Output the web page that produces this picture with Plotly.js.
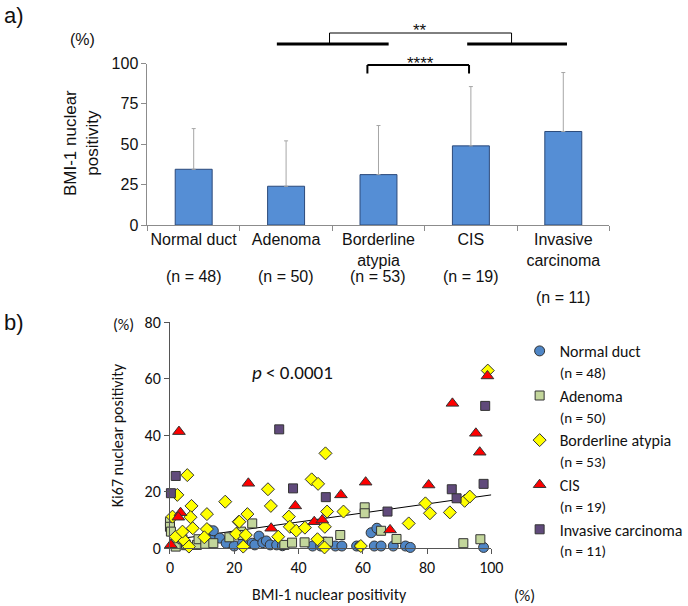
<!DOCTYPE html>
<html>
<head>
<meta charset="utf-8">
<script src="https://cdn.plot.ly/plotly-3.0.1.min.js"></script>
<style>html,body{margin:0;padding:0;background:#fff;}#chart{width:688px;height:606px;}</style>
</head>
<body>
<div id="chart"></div>
<script>
// ---------- Panel a data ----------
const categories = ['Normal duct', 'Adenoma', 'Borderline atypia', 'CIS', 'Invasive carcinoma'];
const tickLabels = ['Normal duct', 'Adenoma', 'Borderline<br>atypia', 'CIS', 'Invasive<br>carcinoma'];
const nLabels = ['(n = 48)', '(n = 50)', '(n = 53)', '(n = 19)', '(n = 11)'];
const meanBMI = [34.5, 24.0, 31.2, 49.0, 57.9];
const sdBMI = [25.2, 28.1, 30.4, 36.7, 36.5];
const yTicksA = [0, 25, 50, 75, 100];

// ---------- Panel b data (BMI-1 %, Ki67 %) ----------
const normalX = [12, 13, 13.5, 15.5, 17.5, 20, 22.6, 25.6, 26.4, 27.7, 28.9, 30, 31.2, 33.2, 35, 44.4, 46.9, 47.9, 51.5, 53.5, 58.1, 59.1, 62.6, 63.6, 64.4, 65.7, 69.5, 73.3, 74.8, 97.6, 100.4];
const normalY = [6.4, 2.8, 6.1, 3.5, 1.7, 0.7, 1.9, 1.7, 1.1, 4.2, 1.9, 2.5, 1.1, 1.1, 0.8, 0.7, 0.7, 0.7, 0.7, 0.7, 0.7, 0.7, 5.4, 0.7, 7.0, 0.7, 0.7, 0.7, 0.2, 0.2, 0.2];
const adenomaX = [0, 0, 0.3, 1.8, 3.9, 5, 8.4, 8.9, 11, 13.5, 18.5, 22.1, 22.6, 25.6, 35.6, 38, 41.9, 47.4, 49.2, 53, 60.6, 60.6, 65.7, 70.5, 91.3, 96.6, 100.4];
const adenomaY = [9.3, 7.5, 5.8, 0.5, 3.1, 1.0, 1.1, 3.1, 1.5, 1.7, 3.8, 5.8, 4.6, 8.7, 1.1, 1.9, 2.0, 2.2, 2.2, 4.6, 14.4, 12.3, 6.1, 3.2, 1.7, 3.1, 4.0];
const borderX = [5.4, 2.3, 17.2, 6.7, 11.5, 6.4, 0.8, 21.4, 7.1, 11.5, 20.6, 10.7, 4.3, 1.8, 5.9, 3.9, 30.5, 44.1, 46.1, 31.4, 24.1, 37, 21.6, 37.3, 39.3, 42, 33.7, 23.6, 45.9, 48.1, 22.8, 48.4, 48.9, 54, 48.2, 74.3, 59.4, 79.5, 80.9, 87.1, 91.7, 93.3, 98.9, 100.4];
const borderY = [25.8, 18.8, 16.4, 14.9, 12.0, 10.9, 11.1, 9.3, 7.0, 6.7, 5.0, 3.8, 2.8, 4.0, 0.5, 5.8, 20.8, 24.3, 22.7, 14.9, 12.0, 11.1, 9.3, 7.5, 6.1, 7.2, 4.0, 4.6, 3.1, 0.2, 0.5, 33.5, 12.9, 12.9, 7.5, 8.7, 0.7, 15.8, 12.3, 12.6, 16.7, 18.2, 62.8, 27.6];
const cisX = [2.8, 3.3, 2.6, 0.3, 24.4, 39, 31.5, 44.9, 47.4, 60.9, 53.2, 68.5, 80.5, 87.9, 95.2, 96.4, 98.8, 100.4];
const cisY = [41.2, 12.5, 10.9, 1.1, 22.9, 14.9, 7.0, 9.3, 9.9, 23.3, 18.8, 6.4, 22.3, 51.2, 40.6, 33.9, 60.9, 25.8];
const invasiveX = [1.8, 0.3, 34, 38.3, 48.5, 67.7, 87.7, 89.2, 97.6, 98.1];
const invasiveY = [25.5, 19.4, 42, 21.1, 18, 12.9, 20.8, 17.6, 22.7, 50.3];
const legendNames = ['Normal duct', 'Adenoma', 'Borderline atypia', 'CIS', 'Invasive carcinoma'];
const legendN = ['(n = 48)', '(n = 50)', '(n = 53)', '(n = 19)', '(n = 11)'];
const fitX = [0, 100];
const fitIntercept = 2.8, fitSlope = 0.16;
const xTicksB = [0, 20, 40, 60, 80, 100];
const yTicksB = [0, 20, 40, 60, 80];

// ---------- helpers (page geometry) ----------
const W = 688, H = 606;
const px = p => p / W;
const py = p => 1 - p / H;
const fontA = 'Liberation Sans, Arial, sans-serif';
const fontB = 'Carlito, Lato, sans-serif';
const axisCol = '#8c8c8c';

const traces = [];
traces.push({
  type: 'bar', x: categories, y: meanBMI, xaxis: 'x', yaxis: 'y',
  marker: {color: '#558ed5', line: {color: '#2c4a7a', width: 1}},
  error_y: {type: 'data', array: sdBMI, arrayminus: sdBMI.map(() => 0), symmetric: false,
            color: '#a6a6a6', thickness: 1, width: 2},
  showlegend: false, hoverinfo: 'skip'
});
traces.push({
  type: 'scatter', mode: 'lines', x: fitX, y: fitX.map(v => fitIntercept + fitSlope * v),
  xaxis: 'x2', yaxis: 'y2', line: {color: '#000', width: 1}, showlegend: false, hoverinfo: 'skip'
});
const series = [
  [normalX, normalY, 'circle', 10, '#4f86c6'],
  [adenomaX, adenomaY, 'square', 9, '#c3d69b'],
  [borderX, borderY, 'diamond', 10, '#ffff00'],
  [cisX, cisY, 'triangle-up', 11, '#ff0000'],
  [invasiveX, invasiveY, 'square', 9, '#604a7b']
];
series.forEach((s, i) => {
  traces.push({
    type: 'scatter', mode: 'markers', x: s[0], y: s[1], xaxis: 'x2', yaxis: 'y2',
    name: legendNames[i] + '<br><span style="font-size:15px">' + legendN[i] + '</span>',
    cliponaxis: false,
    marker: {symbol: s[2], size: s[3], color: s[4], line: {color: '#333', width: 1}}
  });
});

const shapes = [];
const lineSeg = (x0, y0, x1, y1, w) => shapes.push({type: 'line', xref: 'x', yref: 'paper',
  x0: x0, x1: x1, y0: py(y0), y1: py(y1), line: {color: '#000', width: w}});
// lower bracket (Borderline vs CIS)
lineSeg(1.88, 65, 2.98, 65, 2);
lineSeg(1.88, 65, 1.88, 73.5, 2);
lineSeg(2.98, 65, 2.98, 73.5, 2);
// group bars
lineSeg(0.9, 44, 2.11, 44, 3);
lineSeg(2.96, 44, 4.04, 44, 3);
// upper bracket
lineSeg(1.47, 33, 3.44, 33, 1);
lineSeg(1.47, 33, 1.47, 44, 1);
lineSeg(3.44, 33, 3.44, 44, 1);

const ann = [];
const txt = (text, x, y, size, font, extra) => ann.push(Object.assign({text: text, x: px(x), y: py(y),
  xref: 'paper', yref: 'paper', showarrow: false, font: {size: size, family: font, color: '#111'},
  xanchor: 'center', yanchor: 'middle'}, extra || {}));
txt('a)', 2, 15, 22, fontA, {xanchor: 'left'});
txt('(%)', 84, 39, 16, fontA);
txt('BMI-1 nuclear<br>positivity', 83, 143, 17, fontA, {textangle: -90});
categories.forEach((c, i) => ann.push({text: nLabels[i], x: c, xref: 'x', y: py(i === 4 ? 297 : 276), yref: 'paper',
  showarrow: false, font: {size: 16, family: fontA, color: '#111'}, yanchor: 'middle'}));
ann.push({text: '**', x: 2.45, xref: 'x', y: py(19), yref: 'paper', showarrow: false, font: {size: 17, family: fontA, color: '#111'}});
ann.push({text: '****', x: 2.45, xref: 'x', y: py(52), yref: 'paper', showarrow: false, font: {size: 17, family: fontA, color: '#111'}});
txt('b)', 2, 322, 22, fontA, {xanchor: 'left'});
txt('(%)', 126, 324, 16, fontB);
txt('Ki67 nuclear positivity', 120, 435, 16, fontB, {textangle: -90});
txt('BMI-1 nuclear positivity', 337, 594, 16, fontB);
txt('(%)', 537, 595, 16, fontB);
ann.push({text: '<i>p</i> < 0.0001', x: 38, y: 62, xref: 'x2', yref: 'y2', showarrow: false,
  font: {size: 19, family: fontB, color: '#111'}});

const layout = {
  width: W, height: H, margin: {l: 0, r: 0, t: 0, b: 0},
  paper_bgcolor: '#fff', plot_bgcolor: '#fff', showlegend: true, bargap: 0.6,
  xaxis: {domain: [px(151), px(624)], anchor: 'y', type: 'category', tickvals: categories, ticktext: tickLabels,
    tickangle: 0, showline: true, linecolor: axisCol, linewidth: 1, ticks: 'outside', ticklen: 5, tickcolor: axisCol,
    tickson: 'boundaries', showgrid: false, tickfont: {size: 16, family: fontA, color: '#111'}, fixedrange: true},
  yaxis: {domain: [py(225), py(63.5)], anchor: 'x', range: [0, 100], tickvals: yTicksA,
    showline: true, linecolor: axisCol, linewidth: 1, ticks: 'outside', ticklen: 5, tickcolor: axisCol,
    showgrid: false, zeroline: false, tickfont: {size: 16, family: fontA, color: '#111'}},
  xaxis2: {domain: [px(174), px(503)], anchor: 'y2', range: [0, 100], tickvals: xTicksB,
    showline: true, linecolor: '#555', linewidth: 1, ticks: 'outside', ticklen: 5, tickcolor: '#555',
    showgrid: false, zeroline: false, tickfont: {size: 16, family: fontB, color: '#111'}},
  yaxis2: {domain: [py(548), py(322)], anchor: 'x2', range: [0, 80], tickvals: yTicksB,
    showline: true, linecolor: '#555', linewidth: 1, ticks: 'outside', ticklen: 5, tickcolor: '#555',
    showgrid: false, zeroline: false, tickfont: {size: 16, family: fontB, color: '#111'}},
  legend: {x: px(532), y: py(334), xanchor: 'left', yanchor: 'top', valign: 'top',
    font: {size: 16, family: fontB, color: '#111'}, bgcolor: 'rgba(0,0,0,0)', tracegroupgap: 0},
  shapes: shapes, annotations: ann
};
Plotly.newPlot('chart', traces, layout, {staticPlot: true});
</script>
</body>
</html>
